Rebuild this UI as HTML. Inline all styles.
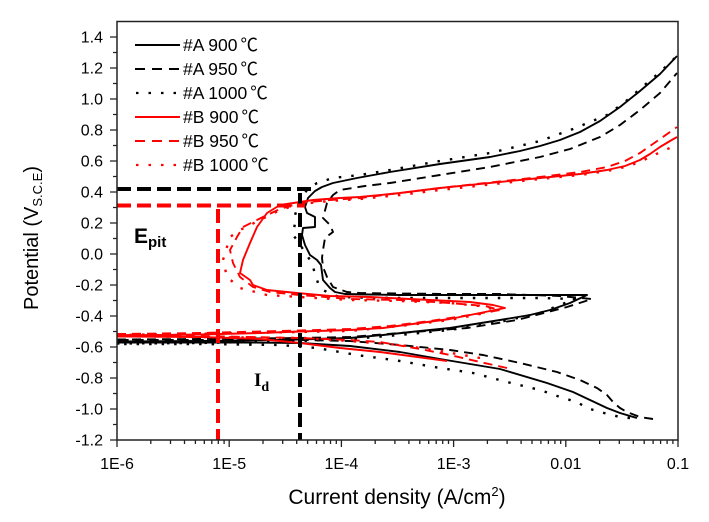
<!DOCTYPE html>
<html><head><meta charset="utf-8"><style>
html,body{margin:0;padding:0;background:#fff;}
svg{display:block;}
text{font-family:"Liberation Sans","Noto Sans CJK SC",sans-serif;fill:#000;}
.cj{font-family:"Noto Sans CJK SC","Liberation Sans",sans-serif;}
</style></head><body>
<svg width="709" height="522" viewBox="0 0 709 522" xmlns="http://www.w3.org/2000/svg">
<rect width="709" height="522" fill="#fff"/>

<!-- data series -->
<g fill="none" stroke-linejoin="round">
<!-- A 900 solid -->
<path stroke="#000" stroke-width="1.9" d="M637,418 L620,413 L607,408 L590,400 L573,392 L547,383 L500,369 L440,359 L400,352 L350,346 L300,343 L250,342.5 L117,342.5 M117,341.5 L200,341 L280,340 L350,338 L383,335 L420,331 L450,328 L500,320 L530,315 L550,310 L570,303 L587,295 L560,295 L500,295 L450,295 L400,295 L370,294.5 L345,294 L335,292 L330,288 L323,280 L321,265 L317,260 L310,255 L305,245 L302,235 L303,228 L315,227 L315,217 L307,213 L305,207 L308,198 L315,191 L322,187 L333,183 L357,178 L390,172 L440,164 L490,157 L520,151 L540,146 L560,140 L580,132 L600,121 L620,107 L640,91 L660,74 L677,56"/>
<!-- A 950 dashed -->
<path stroke="#000" stroke-width="1.9" stroke-dasharray="9 6" d="M653,419 L640,417 L627,412 L620,408 L613,402 L607,395 L597,388 L580,380 L557,372 L520,363 L483,355 L450,350 L400,345 L350,341 L300,340 L117,340 M117,339.5 L200,339 L300,338 L350,337 L400,333 L467,328 L517,320 L567,307 L592,299 L560,296 L500,294 L450,294 L400,293.5 L360,293 L347,292 L333,287 L327,277 L323,267 L322,258 L323,250 L325,238 L333,232 L330,225 L323,218 L327,203 L333,195 L340,190 L365,186 L390,183 L440,175 L490,167 L540,157 L570,149 L600,137 L620,125 L640,110 L660,93 L677,73"/>
<!-- A 1000 dotted -->
<path stroke="#000" stroke-width="2.4" stroke-dasharray="2.5 10" d="M630,418 L620,417 L600,412 L587,408 L577,402 L563,398 L540,390 L507,382 L473,373 L440,368 L400,361 L357,355 L317,348 L280,345 L200,344 L117,344 M117,343.5 L200,343 L300,341 L350,339 L400,335 L450,330 L500,322 L540,313 L565,303 L575,299 L540,298 L450,298 L400,298 L360,297.5 L340,297 L333,295 L323,290 L318,283 L313,267 L310,260 L297,240 L293,235 L295,223 L295,215 L300,200 L307,190 L317,183 L333,178 L360,175 L390,170 L440,161 L490,153 L540,141 L573,129 L607,115 L625,102 L640,89 L660,72 L677,56"/>
<!-- B 900 solid -->
<path stroke="#ff0000" stroke-width="1.9" d="M447,361 L440,360 L410,356 L380,352 L340,348 L300,343 L260,339 L200,337 L117,336.5 M117,335.5 L200,334.5 L260,333 L300,331.5 L350,330 L383,328 L420,323 L450,319 L480,313 L505,308 L493,305 L470,302 L430,300 L400,298.5 L370,297 L330,296 L297,293 L267,290 L253,285 L250,280 L240,273 L243,260 L250,243 L257,227 L267,213 L280,205 L300,202 L313,200 L340,198 L360,197 L400,193 L440,188 L540,178 L580,174 L607,170 L625,166 L640,160 L650,154 L660,147 L670,141 L677,137"/>
<!-- B 950 dashed -->
<path stroke="#ff0000" stroke-width="1.9" stroke-dasharray="9 6" d="M507,368 L480,362 L450,355 L420,349 L380,342 L350,340 L300,338 L200,336 L117,335 M117,334 L200,333 L300,330.5 L350,329 L390,326 L430,321 L470,315 L500,310 L485,306 L450,303 L400,300 L350,299 L300,295 L270,292 L253,287 L240,277 L233,263 L230,250 L237,237 L243,227 L263,217 L280,209 L300,203 L330,200 L360,198 L400,193 L440,188 L540,177 L580,172 L607,167 L625,161 L640,153 L650,146 L660,139 L670,132 L677,127"/>
<!-- B 1000 dotted -->
<path stroke="#ff0000" stroke-width="2.4" stroke-dasharray="2.5 10" d="M480,358 L440,351 L400,345 L350,341 L300,338 L200,337 L117,336 M117,335 L250,333 L350,331 L400,326 L450,320 L480,314 L497,310 L480,306 L450,303 L400,301 L350,300 L300,297 L267,295 L240,288 L227,277 L223,260 L230,237 L240,230 L260,220 L280,210 L300,204 L330,201 L360,199 L400,195 L440,190 L540,179 L580,175 L607,171 L625,167 L640,162 L652,156 L665,150 L677,145"/>
</g>

<!-- reference dashed lines -->
<g fill="none" stroke-width="4" stroke-dasharray="14 6">
<path stroke="#000" d="M117,189 H313"/>
<path stroke="#000" d="M300,193 V440"/>
<path stroke="#ff0000" d="M117,205.5 H305"/>
<path stroke="#ff0000" d="M218,209 V440"/>
</g>

<!-- frame -->
<rect x="117" y="21.5" width="561" height="418.5" fill="none" stroke="#222" stroke-width="1.5"/>

<!-- ticks -->
<g stroke="#222" stroke-width="1.3">
<path d="M110,440H117 M110,409H117 M110,378H117 M110,347H117 M110,316H117 M110,285H117 M110,254H117 M110,223H117 M110,192H117 M110,161H117 M110,130H117 M110,99H117 M110,68H117 M110,37H117"/>
<path d="M113,424.5H117 M113,393.5H117 M113,362.5H117 M113,331.5H117 M113,300.5H117 M113,269.5H117 M113,238.5H117 M113,207.5H117 M113,176.5H117 M113,145.5H117 M113,114.5H117 M113,83.5H117 M113,52.5H117"/>
<path d="M117,440V447 M229.2,440V447 M341.4,440V447 M453.6,440V447 M565.8,440V447 M678,440V447"/>
<path d="M150.8,440V444 M170.5,440V444 M184.5,440V444 M195.4,440V444 M204.3,440V444 M211.8,440V444 M218.3,440V444 M224.1,440V444
M263,440V444 M282.7,440V444 M296.7,440V444 M307.6,440V444 M316.5,440V444 M324,440V444 M330.5,440V444 M336.3,440V444
M375.2,440V444 M394.9,440V444 M408.9,440V444 M419.8,440V444 M428.7,440V444 M436.2,440V444 M442.7,440V444 M448.5,440V444
M487.4,440V444 M507.1,440V444 M521.1,440V444 M532,440V444 M540.9,440V444 M548.4,440V444 M554.9,440V444 M560.7,440V444
M599.6,440V444 M619.3,440V444 M633.3,440V444 M644.2,440V444 M653.1,440V444 M660.6,440V444 M667.1,440V444 M672.9,440V444"/>
</g>

<!-- y tick labels -->
<g font-size="16" text-anchor="end">
<text x="103" y="445.5">-1.2</text>
<text x="103" y="414.5">-1.0</text>
<text x="103" y="383.5">-0.8</text>
<text x="103" y="352.5">-0.6</text>
<text x="103" y="321.5">-0.4</text>
<text x="103" y="290.5">-0.2</text>
<text x="103" y="259.5">0.0</text>
<text x="103" y="228.5">0.2</text>
<text x="103" y="197.5">0.4</text>
<text x="103" y="166.5">0.6</text>
<text x="103" y="135.5">0.8</text>
<text x="103" y="104.5">1.0</text>
<text x="103" y="73.5">1.2</text>
<text x="103" y="42.5">1.4</text>
</g>

<!-- x tick labels -->
<g font-size="16" text-anchor="middle">
<text x="117" y="469">1E-6</text>
<text x="229.2" y="469">1E-5</text>
<text x="341.4" y="469">1E-4</text>
<text x="453.6" y="469">1E-3</text>
<text x="565.8" y="469">0.01</text>
<text x="678" y="469">0.1</text>
</g>

<!-- axis titles -->
<text x="397" y="504" font-size="21" text-anchor="middle">Current density (A/cm<tspan font-size="13" dy="-8">2</tspan><tspan dy="8">)</tspan></text>
<text transform="translate(38,238) rotate(-90)" font-size="20" text-anchor="middle">Potential (V<tspan font-size="13" dy="4">S.C.E</tspan><tspan dy="-4">)</tspan></text>

<!-- legend -->
<g fill="none" stroke-width="2">
<path stroke="#000" d="M135,45H180"/>
<path stroke="#000" stroke-dasharray="10 7" d="M135,69H180"/>
<path stroke="#000" stroke-width="2.2" stroke-dasharray="2.5 10" d="M136,93H180"/>
<path stroke="#ff0000" d="M135,117H180"/>
<path stroke="#ff0000" stroke-dasharray="10 7" d="M135,141H180"/>
<path stroke="#ff0000" stroke-width="2.2" stroke-dasharray="2.5 10" d="M136,165H180"/>
</g>
<g font-size="17.5">
<text x="183" y="51">#A 900<tspan class="cj" dx="3">℃</tspan></text>
<text x="183" y="75">#A 950<tspan class="cj" dx="3">℃</tspan></text>
<text x="183" y="99">#A 1000<tspan class="cj" dx="3">℃</tspan></text>
<text x="183" y="123">#B 900<tspan class="cj" dx="3">℃</tspan></text>
<text x="183" y="147">#B 950<tspan class="cj" dx="3">℃</tspan></text>
<text x="183" y="171">#B 1000<tspan class="cj" dx="3">℃</tspan></text>
</g>

<!-- annotations -->
<text x="134" y="243" font-size="21" font-weight="bold">E<tspan font-size="15" dy="4">pit</tspan></text>
<text x="254" y="386" font-size="19" font-weight="bold" style="font-family:'Liberation Serif',serif;">I<tspan font-size="14" dy="5">d</tspan></text>
</svg>
</body></html>
